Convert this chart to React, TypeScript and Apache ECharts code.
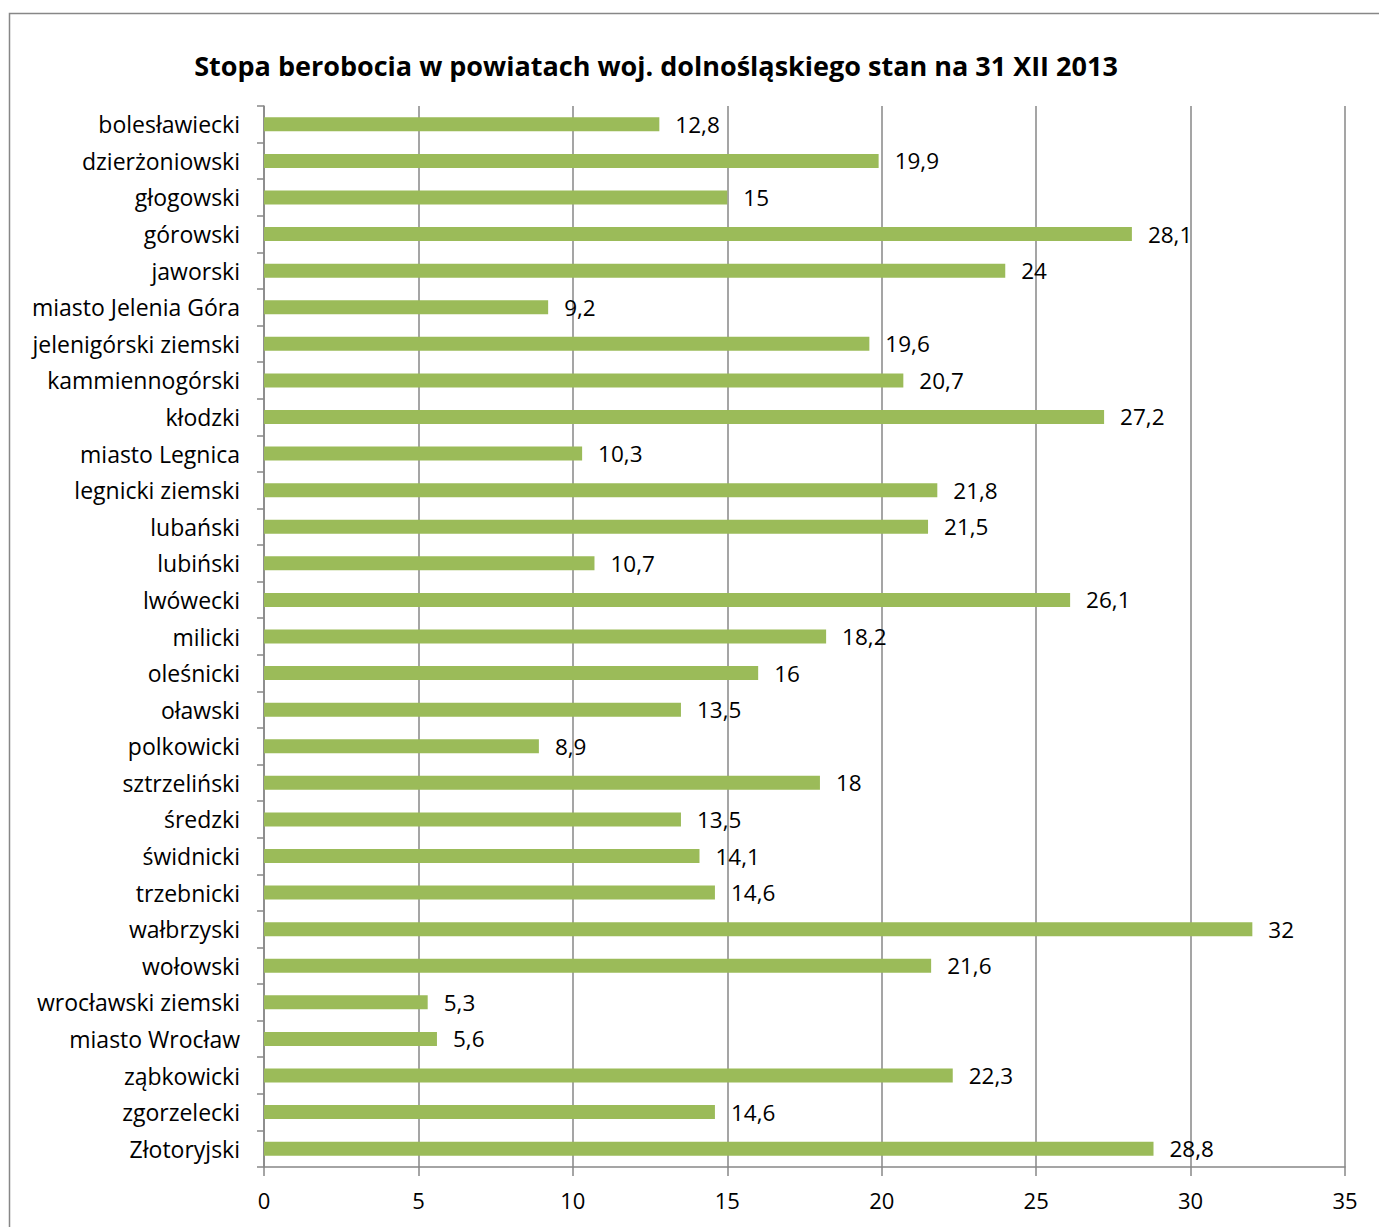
import React, { useEffect, useRef } from "react";
import * as echarts from "echarts";

const titleText = "Stopa berobocia w powiatach woj. dolnośląskiego stan na 31 XII 2013";

const categories = [
  "bolesławiecki", "dzierżoniowski", "głogowski", "górowski", "jaworski",
  "miasto Jelenia Góra", "jelenigórski ziemski", "kammiennogórski", "kłodzki",
  "miasto Legnica", "legnicki ziemski", "lubański", "lubiński", "lwówecki",
  "milicki", "oleśnicki", "oławski", "polkowicki", "sztrzeliński", "średzki",
  "świdnicki", "trzebnicki", "wałbrzyski", "wołowski", "wrocławski ziemski",
  "miasto Wrocław", "ząbkowicki", "zgorzelecki", "Złotoryjski",
];

const values = [
  12.8, 19.9, 15, 28.1, 24, 9.2, 19.6, 20.7, 27.2, 10.3, 21.8, 21.5, 10.7, 26.1,
  18.2, 16, 13.5, 8.9, 18, 13.5, 14.1, 14.6, 32, 21.6, 5.3, 5.6, 22.3, 14.6, 28.8,
];

const xMin = 0;
const xMax = 35;
const xStep = 5;

const FONT = "Open Sans";
const AXIS_COLOR = "#878787";

export default function App() {
  const ref = useRef<HTMLDivElement>(null);
  useEffect(() => {
    if (!ref.current) return;
    const chart = echarts.init(ref.current, null, { renderer: "svg" });
    chart.setOption({
      animation: false,
      backgroundColor: "#ffffff",
      textStyle: { fontFamily: FONT },
      title: {
        text: titleText,
        left: 651,
        textAlign: "center",
        top: 47,
        textStyle: { fontFamily: FONT, fontSize: 27, fontWeight: "bold", color: "#000" },
      },
      graphic: [
        {
          type: "rect",
          shape: { x: 9.5, y: 13.5, width: 1420, height: 1300 },
          style: { fill: "none", stroke: AXIS_COLOR, lineWidth: 1.5 },
          silent: true,
        },
      ],
      grid: { left: 264, right: 34, top: 106, bottom: 60, containLabel: false },
      xAxis: {
        type: "value",
        min: xMin,
        max: xMax,
        interval: xStep,
        axisLine: { show: true, lineStyle: { color: AXIS_COLOR, width: 1.5 } },
        axisTick: { show: true, length: 9, lineStyle: { color: AXIS_COLOR, width: 1.5 } },
        splitLine: { show: true, lineStyle: { color: AXIS_COLOR, width: 1.5 } },
        axisLabel: { fontFamily: FONT, fontSize: 22, color: "#000", margin: 22 },
      },
      yAxis: {
        type: "category",
        data: categories,
        inverse: true,
        axisLine: { show: true, lineStyle: { color: AXIS_COLOR, width: 1.5 } },
        axisTick: { show: true, length: 7, alignWithLabel: false, lineStyle: { color: AXIS_COLOR, width: 1.5 } },
        axisLabel: { fontFamily: FONT, fontSize: 23, color: "#000", margin: 24 },
        splitLine: { show: false },
      },
      series: [
        {
          type: "bar",
          data: values,
          barWidth: 14,
          itemStyle: { color: "#9BBB59" },
          label: {
            show: true,
            position: "right",
            distance: 16,
            fontFamily: FONT,
            fontSize: 22.5,
            color: "#000",
            formatter: (p: any) => String(p.value).replace(".", ","),
          },
        },
      ],
    });
    return () => chart.dispose();
  }, []);
  return (
    <div
      ref={ref}
      style={{ position: "absolute", left: 0, top: 0, width: 1379, height: 1227 }}
    />
  );
}
